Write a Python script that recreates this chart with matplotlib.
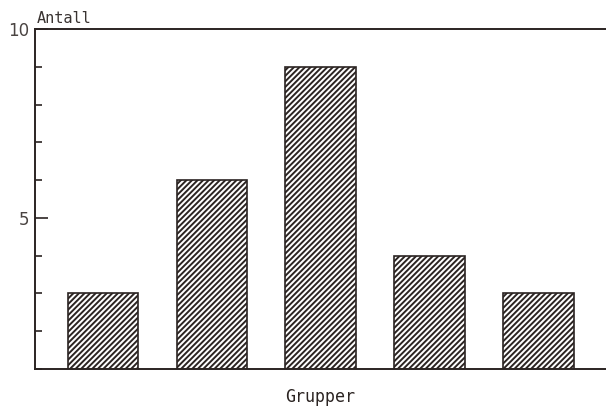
import matplotlib.pyplot as plt
import matplotlib as mpl

groups = [1, 2, 3, 4, 5]
counts = [3, 6, 9, 4, 3]
y_ticks = [1, 2, 3, 4, 5, 6, 7, 8, 9, 10]
y_labels = ["5", "10"]

ink = '#2b2422'
mpl.rcParams['hatch.linewidth'] = 1.4
mpl.rcParams['hatch.color'] = ink
plt.rcParams['font.family'] = 'DejaVu Sans Mono'

fig = plt.figure(figsize=(6.06, 4.07), dpi=100)
ax = fig.add_axes([35/606, 38/407, 1 - 35/606, (369-29)/407])

ax.bar(groups, counts, width=0.65, bottom=0, facecolor='white',
       edgecolor=ink, linewidth=1.2, hatch='//////')

ax.set_xlim(0.375, 5.62)
ax.set_ylim(1, 10)

ax.spines['right'].set_visible(False)
for s in ['left', 'bottom', 'top']:
    ax.spines[s].set_color(ink)
    ax.spines[s].set_linewidth(1.4)

ax.set_xticks([])
ax.set_yticks([5, 10])
ax.set_yticklabels(y_labels, fontsize=12, color='#4a4442', family='DejaVu Sans')
ax.set_yticks([t for t in y_ticks if t not in (5, 10)], minor=True)
ax.tick_params(axis='y', which='major', direction='in', length=9, width=1.2,
               color=ink, pad=4)
ax.tick_params(axis='y', which='minor', direction='in', length=5, width=1.2,
               color=ink)

ax.text(0.003, 1.01, "Antall", transform=ax.transAxes, fontsize=11,
        color='#3a3432', ha='left', va='bottom')
fig.text(320/606, 1 - 397/407, "Grupper", fontsize=12, color=ink,
         ha='center', va='center')

fig.savefig('out.png', dpi=100)
